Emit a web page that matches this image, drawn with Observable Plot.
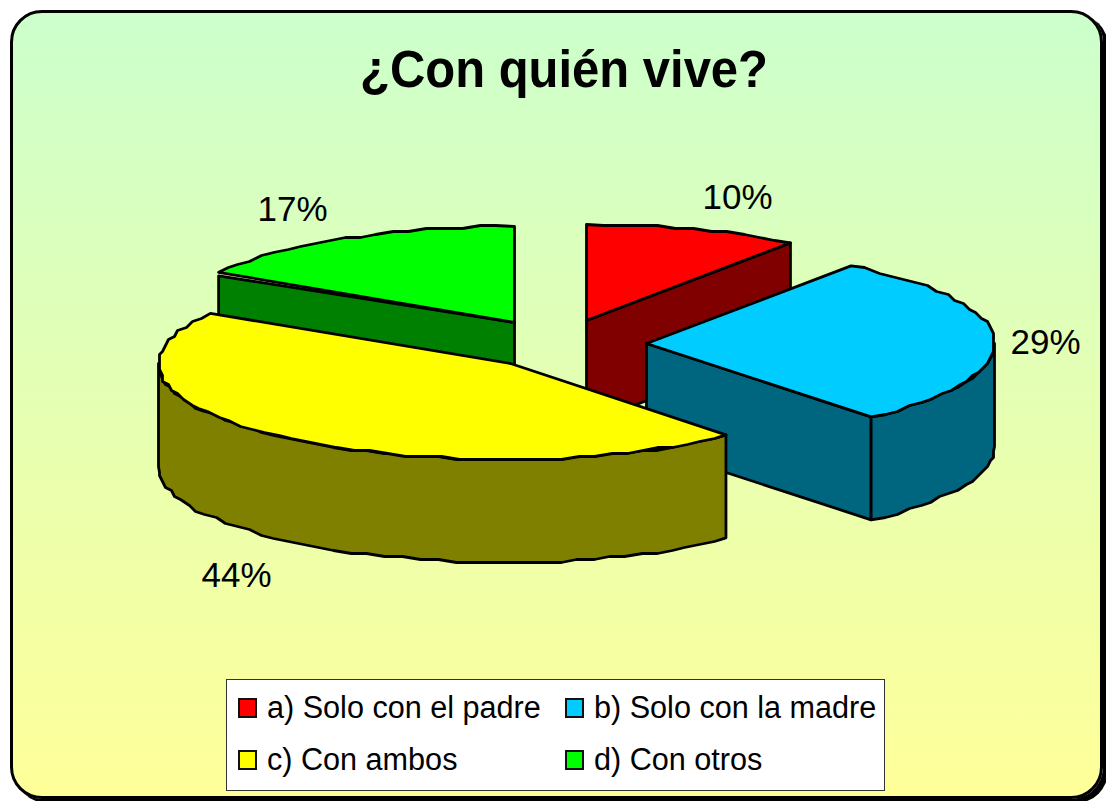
<!DOCTYPE html>
<html lang="es">
<head>
<meta charset="utf-8">
<title>¿Con quién vive?</title>
<script src="https://cdn.jsdelivr.net/npm/d3@7"></script>
<script src="https://cdn.jsdelivr.net/npm/@observablehq/plot@0.6"></script>
<style>
  html, body { margin: 0; padding: 0; background: #fff; }
  #stage { position: relative; width: 1106px; height: 801px; overflow: hidden; font-family: "Liberation Sans", Arial, sans-serif; color: #000; }
  #panel { position: absolute; left: 10px; top: 10px; width: 1087px; height: 783px; border: 3px solid #000; border-radius: 32px;
           background: linear-gradient(to bottom, #ccffcc 0%, #ffff99 100%); box-shadow: 5px 4px 0 0 #000; }
  #title { position: absolute; left: 0; width: 1128px; top: 40px; text-align: center; font-weight: bold; font-size: 51px; line-height: 60px; transform: scaleX(0.96); }
  #chart { position: absolute; left: 0; top: 0; }
  #chart svg { display: block; background: transparent; }
  #legend { position: absolute; left: 226px; top: 679px; width: 657px; height: 110px; background: #fff; border: 1px solid #333; }
  .item { position: absolute; font-size: 30.6px; line-height: 36px; white-space: nowrap; }
  .sw { position: absolute; left: 0; top: 9px; width: 15px; height: 16px; border: 2px solid #111; }
  .item span { position: absolute; left: 29px; top: 0; }
</style>
</head>
<body>
<div id="stage">
  <div id="panel"></div>
  <div id="title">¿Con quién vive?</div>
  <div id="chart"></div>
  <div id="legend"></div>
</div>
<script>
const categories = ["a) Solo con el padre", "b) Solo con la madre", "c) Con ambos", "d) Con otros"];
const shares = [10, 29, 44, 17];
const topColors = ["#ff0000", "#00ccff", "#ffff00", "#00ff00"];
const wallColors = ["#800000", "#006680", "#808000", "#008000"];

// Layout of the exploded 3D pie
const apexX = [586, 646, 510, 514];
const apexY = [320, 343, 363, 322];
const radiusRight = [347, 348, 322, 347];
const radiusLeft = [347, 348, 352, 347];
// The source's perspective moves slice edges a little away from their true angle
const startShift = [0, 0, -2.4, 2.7];
const endShift = [0, -0.6, 2.7, 0];
const tipDrop = [0, 0, 0, 3.5];
const labelX = [737, 1045, 236, 292];
const labelY = [197, 342, 575, 209];
const legendLeft = [11, 338, 11, 338];
const legendTop = [9, 9, 61, 61];
const ry = 96, depth = 103;
const drawOrder = [0, 3, 1, 2];

const rad = d => d * Math.PI / 180;
const total = d3.sum(shares);
let running = 0;
const slices = shares.map((v, i) => {
  const start = running * 360 / total + startShift[i];
  running += v;
  return {i, start, end: running * 360 / total + endShift[i], ax: apexX[i], ay: apexY[i]};
});

// Point on the rim; the stepping mimics the staircase outline of the source rendering
const rim = (s, deg, dz = 0, step = true) => {
  const sin = Math.sin(rad(deg));
  const x = s.ax + (sin >= 0 ? radiusRight[s.i] : radiusLeft[s.i]) * sin;
  const y = s.ay - ry * Math.cos(rad(deg));
  return step
    ? {x: Math.round(x / 3) * 3, y: Math.round(y / 3) * 3 + dz}
    : {x, y: y + dz};
};
const arc = (s, a, b, dz = 0) => {
  const pts = [];
  const n = Math.max(1, Math.round(Math.abs(b - a) / 3));
  for (let k = 0; k <= n; k++) {
    const deg = a + (b - a) * k / n;
    pts.push(rim(s, deg, dz, k > 0 && k < n));
  }
  return pts;
};

const marks = [];
const poly = (pts, fill) => marks.push(Plot.line(pts, {
  x: "x", y: "y", fill, stroke: "#000", strokeWidth: 2.8, curve: "linear-closed", strokeLinejoin: "round"
}));

for (const i of drawOrder) {
  const s = slices[i];
  const wall = wallColors[i];
  const cut = deg => {
    const p = rim(s, deg, 0, false);
    return [{x: s.ax, y: s.ay}, {x: p.x, y: p.y + tipDrop[i]}, {x: p.x, y: p.y + depth}, {x: s.ax, y: s.ay + depth}];
  };
  // Side faces that look towards the viewer
  if (Math.sin(rad(s.start)) < -1e-6) poly(cut(s.start), wall);
  if (Math.sin(rad(s.end)) > 1e-6) poly(cut(s.end), wall);
  // Rim wall: the front half of the ellipse, from 90 to 270 degrees
  const a = Math.max(s.start, 90), b = Math.min(s.end, 270);
  if (b > a) poly([...arc(s, a, b), ...arc(s, b, a, depth)], wall);
  // Top face
  poly([{x: s.ax, y: s.ay}, ...arc(s, s.start, s.end)], topColors[i]);
}

const labels = shares.map((v, i) => ({text: `${v}%`, x: labelX[i], y: labelY[i]}));
marks.push(Plot.text(labels, {
  x: "x", y: "y", text: "text", fontSize: 35, fill: "#000", textAnchor: "middle", lineAnchor: "middle",
  fontFamily: "Liberation Sans"
}));

const chart = Plot.plot({
  width: 1106, height: 801,
  marginTop: 0, marginRight: 0, marginBottom: 0, marginLeft: 0,
  x: {domain: [0, 1106], range: [0, 1106], axis: null},
  y: {domain: [0, 801], range: [0, 801], axis: null},
  style: {background: "transparent"},
  marks
});
document.getElementById("chart").appendChild(chart);

const legend = document.getElementById("legend");
categories.forEach((c, i) => {
  const el = document.createElement("div");
  el.className = "item";
  el.style.left = legendLeft[i] + "px";
  el.style.top = legendTop[i] + "px";
  const sw = document.createElement("div");
  sw.className = "sw";
  sw.style.background = topColors[i];
  const tx = document.createElement("span");
  tx.textContent = c;
  el.append(sw, tx);
  legend.appendChild(el);
});
</script>
</body>
</html>
